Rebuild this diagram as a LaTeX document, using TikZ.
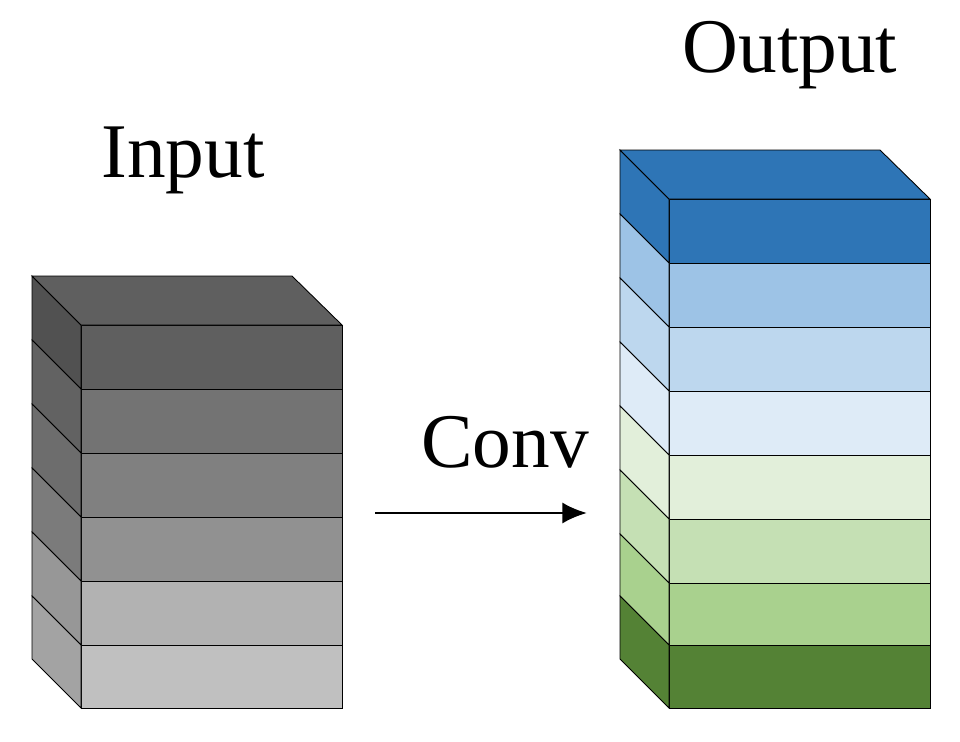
\documentclass[tikz,border=0pt]{standalone}
\usepackage{fontspec}
\setmainfont{Liberation Serif}
\usetikzlibrary{arrows.meta}
\begin{document}
\begin{tikzpicture}[x=0.02cm,y=-0.02cm]
    \tikzstyle{face}=[draw=black,line width=0.5pt]
    \tikzstyle{label}=[font=\fontsize{44}{50}\selectfont]
    \useasboundingbox (0,0) rectangle (960,741);

    % input stack
    \foreach \top/\bot/\col in {325/389/5F5F5F,389/453/737373,453/517/808080,517/581/919191,581/645/B2B2B2,645/708/C0C0C0}{
        \definecolor{lay}{HTML}{\col}
        \fill[face,fill=lay] (81,\top) rectangle (342,\bot);
        \fill[face,fill=lay!85!black] (81,\top) -- (81,\bot) -- (32,\bot-49) -- (32,\top-49) -- cycle;
    }
    \definecolor{lay}{HTML}{5F5F5F}
    \fill[face,fill=lay] (32,276) -- (292,276) -- (342,325) -- (81,325) -- cycle;

    % output stack
    \foreach \top/\bot/\col in {199/263/2E75B6,263/327/9DC3E6,327/391/BDD7EE,391/455/DEEBF7,455/519/E2EFDA,519/583/C5E0B4,583/645/A9D18E,645/708/548235}{
        \definecolor{lay}{HTML}{\col}
        \fill[face,fill=lay] (669,\top) rectangle (930,\bot);
        \fill[face,fill=lay] (669,\top) -- (669,\bot) -- (620,\bot-49) -- (620,\top-49) -- cycle;
    }
    \definecolor{lay}{HTML}{2E75B6}
    \fill[face,fill=lay] (620,150) -- (880,150) -- (930,199) -- (669,199) -- cycle;

    \node[label] (input) at (183,160) {Input};
    \node[label] (output) at (790,55) {Output};
    \node[label] (conv) at (505,442) {Conv};
    \coordinate (convstart) at (375,513);
    \coordinate (convend) at (587,513);
    \draw[-{Latex[length=14pt,width=12pt]},line width=1.5pt] (convstart) -- (convend);
\end{tikzpicture}
\end{document}
